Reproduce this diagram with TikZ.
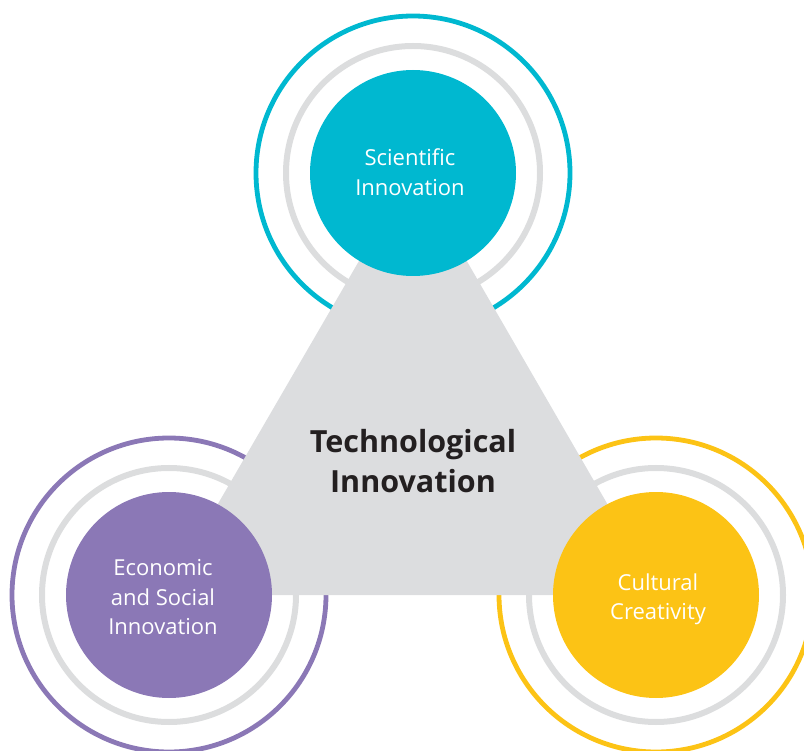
\documentclass[tikz,border=0pt]{standalone}
\usepackage{fontspec}
\setmainfont{Open Sans}
\definecolor{scicol}{RGB}{0,184,208}
\definecolor{ecocol}{RGB}{139,120,182}
\definecolor{culcol}{RGB}{252,195,21}
\definecolor{ringgray}{RGB}{220,221,222}
\definecolor{trigray}{RGB}{220,221,223}
\definecolor{darktext}{RGB}{35,31,32}
\tikzset{
  outerring/.style={line width=4.8pt},
  grayring/.style={draw=ringgray, line width=6pt},
  topic/.style={circle, inner sep=0pt, minimum size=206pt, text=white, align=center,
    font=\fontsize{22}{29.5}\selectfont},
  centre/.style={align=center, text=darktext, font=\bfseries\fontsize{30.5}{39.5}\selectfont}
}
\begin{document}
\begin{tikzpicture}[x=1pt,y=-1pt]
\useasboundingbox (0,0) rectangle (804,751);
\clip (0,0) rectangle (804,751);
\coordinate (cs) at (413,173);
\coordinate (ce) at (169,595);
\coordinate (cc) at (656,595);
% rings
\draw[outerring, draw=scicol] (cs) circle[radius=157pt];
\draw[grayring] (cs) circle[radius=127pt];
\draw[outerring, draw=ecocol] (ce) circle[radius=157pt];
\draw[grayring] (ce) circle[radius=127pt];
\draw[outerring, draw=culcol] (cc) circle[radius=157pt];
\draw[grayring] (cc) circle[radius=127pt];
% triangle
\coordinate (tl) at (165,595);
\coordinate (tt) at (413,168);
\coordinate (tr) at (660,595);
\fill[trigray] (tl) -- (tt) -- (tr) -- cycle;
% topic circles
\node[topic, fill=scicol] (sci) at (cs) {};
\node[topic, fill=ecocol] (eco) at (ce) {};
\node[topic, fill=culcol] (cul) at (cc) {};
\node[text=white, align=center, font=\fontsize{22}{29.5}\selectfont] (scit) at (410,172) {Scientific\\Innovation};
\node[text=white, align=center, font=\fontsize{22}{29.5}\selectfont] (ecot) at (163,597.5) {Economic\\and Social\\Innovation};
\node[text=white, align=center, font=\fontsize{22}{29.5}\selectfont] (cult) at (658,599.5) {Cultural\\Creativity};
\node[centre] (tech) at (413,461) {Technological\\Innovation};
\end{tikzpicture}
\end{document}
